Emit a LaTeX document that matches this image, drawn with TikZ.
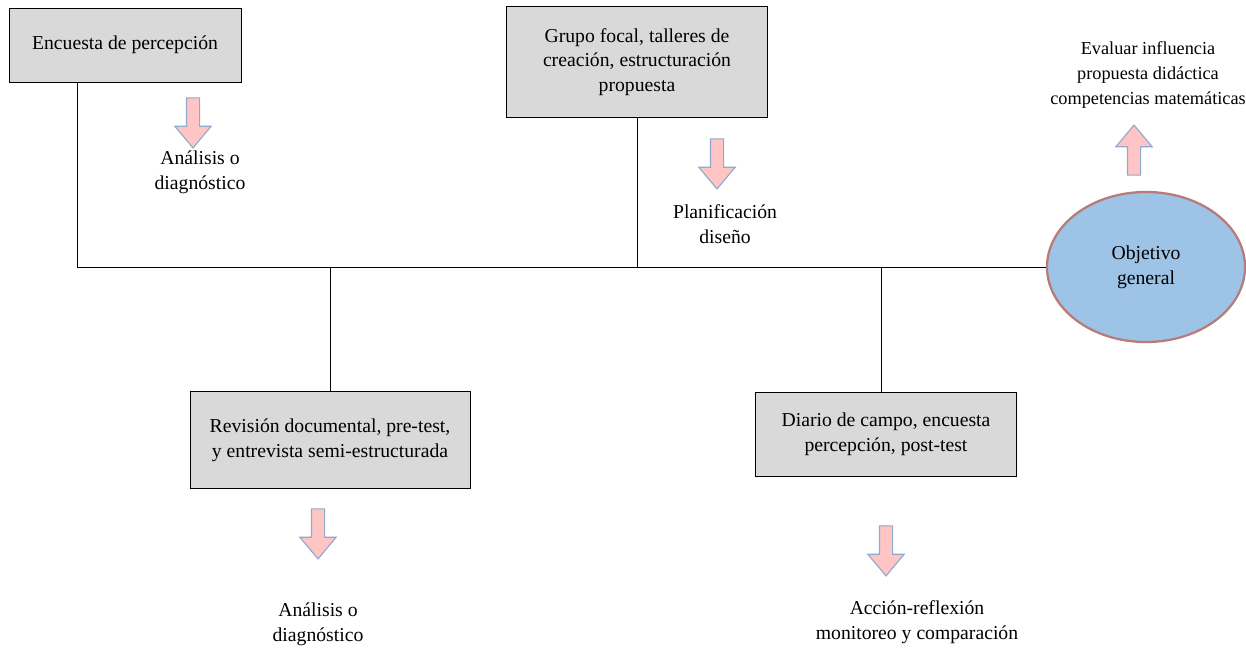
\documentclass[tikz,border=0pt]{standalone}
\usepackage{fontspec}
\setmainfont{Liberation Serif}
\usetikzlibrary{positioning, shapes.geometric, shapes.arrows}
\definecolor{boxgray}{HTML}{D9D9D9}
\definecolor{goalblue}{HTML}{9DC3E6}
\definecolor{goalrim}{HTML}{B97B78}
\definecolor{arrowpink}{HTML}{FFC4C4}
\definecolor{arrowrim}{HTML}{8FAACC}
\def\labelfont{\fontsize{14}{17.6}\selectfont}
\tikzset{
% Stage box
stage/.style={
	draw, fill=boxgray, semithick, rectangle,
	align=center, font=\labelfont,
},
% Objective
goal/.style={
	ellipse, draw=goalrim, line width=1.6pt, fill=goalblue,
	inner sep=0pt, minimum width=4.95cm, minimum height=3.75cm,
	align=center, font=\labelfont,
},
% Block arrow
flowarrow/.style={
	single arrow, draw=arrowrim, fill=arrowpink, thick,
	inner sep=0.15cm, single arrow head extend=0.29cm,
	single arrow tip angle=80, minimum height=1.25cm,
},
% Note
note/.style={
	align=center, font=\labelfont,
},
% Connection
connection/.style={
	thin,
},
}
\begin{document}
\begin{tikzpicture}[x=0.025cm, y=-0.025cm]
		\useasboundingbox (0,0) rectangle (1246,650);
		% Components
		\node[stage, minimum width=5.8cm, minimum height=1.85cm]
			 (encuesta) at (125,45) {Encuesta de percepción};
		\node[stage, minimum width=6.525cm, minimum height=2.775cm]
			 (grupo) at (637,62) {Grupo focal, talleres de\\creación, estructuración\\propuesta};
		\node[stage, minimum width=7cm, minimum height=2.425cm]
			 (revision) at (330,440) {Revisión documental, pre-test,\\y entrevista semi-estructurada};
		\node[stage, minimum width=6.525cm, minimum height=2.1cm]
			 (diario) at (886,434) {Diario de campo, encuesta\\percepción, post-test};
		\node[goal] (objetivo) at (1146,267) {Objetivo\\general};

		% Arrows
		\node[flowarrow, rotate=-90] (flecha1) at (193,119) {};
		\node[flowarrow, rotate=-90] (flecha2) at (717,160) {};
		\node[flowarrow, rotate=-90] (flecha3) at (318,530) {};
		\node[flowarrow, rotate=-90] (flecha4) at (886,547) {};
		\node[flowarrow, rotate=90] (flecha5) at (1134,154) {};

		% Notes
		\node[note] (nota1) at (200,172) {Análisis o\\diagnóstico};
		\node[note] (nota2) at (725,224) {Planificación\\diseño};
		\node[note] (nota3) at (318,624) {Análisis o\\diagnóstico};
		\node[note] (nota4) at (917,622) {Acción-reflexión\\monitoreo y comparación};
		\node[note, font=\fontsize{13}{17.6}\selectfont] (nota5) at (1148,75) {Evaluar influencia\\propuesta didáctica\\competencias matemáticas};

		% Connections
		\coordinate (bus) at (77,267);
		\draw[connection] (bus|-encuesta.south) -- (bus) -- (objetivo.west);
		\draw[connection] (grupo.south) -- (grupo.south|-bus);
		\draw[connection] (revision.north) -- (revision.north|-bus);
		\draw[connection] (diario.north) ++(-5,0) -- ++(0,-125);
	\end{tikzpicture}
\end{document}
